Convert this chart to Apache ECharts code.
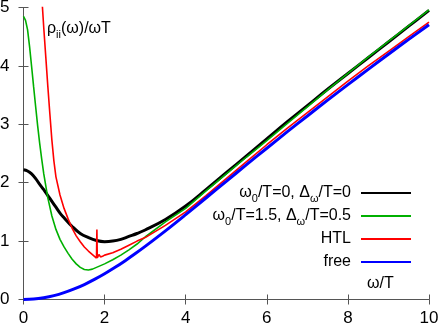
<!DOCTYPE html>
<html>
<head>
<meta charset="utf-8">
<script src="https://cdn.jsdelivr.net/npm/echarts@6/dist/echarts.min.js"></script>
<style>
html,body{margin:0;padding:0;background:#fff;}
#chart{width:441px;height:328px;}
</style>
</head>
<body>
<div id="chart"></div>
<script>
// x ticks and y ticks
const xTicks = [0, 2, 4, 6, 8, 10];
const yTicks = [0, 1, 2, 3, 4, 5];

// omega0/T=0, Delta_omega/T=0 (black)
const omegaBlack = [0,0.1,0.2,0.3,0.4,0.5,0.6,0.7,0.8,0.9,1.0,1.2,1.4,1.6,1.8,2.0,2.2,2.4,2.6,2.8,3.0,3.5,4,4.5,5,5.5,6,6.5,7,7.5,8,8.5,9,9.5,10];
const rhoBlack   = [2.22,2.20,2.15,2.07,1.97,1.88,1.78,1.68,1.58,1.48,1.40,1.25,1.13,1.06,1.01,0.99,1.00,1.03,1.08,1.13,1.19,1.37,1.60,1.88,2.17,2.46,2.75,3.04,3.32,3.60,3.87,4.14,4.41,4.68,4.95];

// omega0/T=1.5, Delta_omega/T=0.5 (green)
const omegaGreen = [0,0.05,0.1,0.15,0.2,0.25,0.3,0.35,0.4,0.45,0.5,0.6,0.7,0.8,0.9,1.0,1.1,1.2,1.3,1.4,1.5,1.6,1.7,1.8,2.0,2.2,2.4,2.6,2.8,3.0,3.5,4,4.5,5,5.5,6,6.5,7,7.5,8,8.5,9,9.5,10];
const rhoGreen   = [4.85,4.78,4.62,4.33,3.99,3.64,3.30,2.97,2.67,2.40,2.15,1.74,1.43,1.20,1.03,0.90,0.79,0.69,0.61,0.55,0.515,0.505,0.52,0.55,0.61,0.68,0.76,0.85,0.95,1.07,1.33,1.56,1.86,2.15,2.44,2.72,3.01,3.30,3.59,3.87,4.15,4.42,4.69,4.96];

// HTL (red)
const omegaRed = [0.44,0.5,0.55,0.6,0.65,0.7,0.75,0.8,0.9,1.0,1.1,1.2,1.3,1.4,1.5,1.6,1.7,1.8,1.81,1.82,1.86,1.9,1.95,2.0,2.2,2.4,2.6,2.8,3.0,3.5,4,4.5,5,5.5,6,6.5,7,7.5,8,8.5,9,9.5,10];
const rhoRed   = [5.30,4.65,4.15,3.65,3.18,2.73,2.37,2.10,1.79,1.56,1.38,1.22,1.09,0.99,0.90,0.83,0.77,0.71,1.20,0.71,0.77,0.73,0.74,0.76,0.80,0.86,0.93,1.00,1.06,1.27,1.50,1.78,2.07,2.36,2.65,2.93,3.20,3.47,3.74,4.00,4.25,4.50,4.75];

// free (blue)
const omegaFree = [0,0.25,0.5,0.75,1,1.25,1.5,1.75,2,2.25,2.5,2.75,3,3.5,4,4.5,5,5.5,6,6.5,7,7.5,8,8.5,9,9.5,10];
const rhoFree   = [0,0.007,0.030,0.066,0.117,0.181,0.256,0.344,0.441,0.547,0.661,0.782,0.909,1.175,1.453,1.738,2.023,2.309,2.590,2.870,3.143,3.413,3.679,3.941,4.199,4.454,4.706];

const seriesNames = [
  '{a|ω}{s|0}{a|/T=0, Δ}{s|ω}{a|/T=0}',
  '{a|ω}{s|0}{a|/T=1.5, Δ}{s|ω}{a|/T=0.5}',
  '{a|HTL}{s|\u200b}',
  '{a|free}{s|\u200b}'
];

const pairs = (xs, ys) => xs.map((x, i) => [x, ys[i]]);

const FONT = 'Liberation Sans, Arial, sans-serif';
const axisColor = '#555';

const chart = echarts.init(document.getElementById('chart'), null, {renderer: 'canvas'});

const richText = {
  a: {fontSize: 16, fontFamily: FONT, fontWeight: 'normal', color: '#000', lineHeight: 16, verticalAlign: 'top'},
  s: {fontSize: 11, fontFamily: FONT, fontWeight: 'normal', color: '#000', lineHeight: 11, verticalAlign: 'top', padding: [8, 0, 0, 0]}
};

const option = {
  animation: false,
  backgroundColor: '#fff',
  textStyle: {fontFamily: FONT},
  title: [
    {
      text: '{a|ρ}{s|ii}{a|(ω)/ωT}',
      left: 47, top: 21, padding: 0,
      textStyle: {rich: richText, fontWeight: 'normal'}
    },
    {
      text: 'ω/T',
      left: 367, top: 276, padding: 0,
      textStyle: {fontSize: 16, fontWeight: 'normal', fontFamily: FONT, color: '#000'}
    }
  ],
  grid: {left: 23.5, right: 12, top: 7.5, bottom: 28.5, outerBoundsMode: 'none', containLabel: false},
  legend: {
    data: seriesNames,
    orient: 'vertical',
    align: 'right',
    right: 29,
    top: 185,
    padding: 0,
    itemWidth: 50,
    itemHeight: 14,
    itemGap: 4,
    formatter: n => n,
    itemStyle: {opacity: 0, borderWidth: 0},
    textStyle: {rich: richText, padding: [0, 5, 0, 0]}
  },
  xAxis: [
    {
      type: 'value', min: xTicks[0], max: xTicks[xTicks.length - 1], interval: xTicks[1] - xTicks[0],
      axisLine: {show: true, lineStyle: {color: axisColor, width: 1}},
      axisTick: {show: true, inside: true, length: 5, lineStyle: {color: axisColor}},
      axisLabel: {fontSize: 17, color: '#000', margin: 10, fontFamily: FONT},
      splitLine: {show: false}
    },
    {
      type: 'value', position: 'top', min: xTicks[0], max: xTicks[xTicks.length - 1], interval: xTicks[1] - xTicks[0],
      axisLine: {show: true, lineStyle: {color: axisColor, width: 1}},
      axisTick: {show: true, inside: true, length: 5, lineStyle: {color: axisColor}},
      axisLabel: {show: false},
      splitLine: {show: false}
    }
  ],
  yAxis: [
    {
      type: 'value', min: yTicks[0], max: yTicks[yTicks.length - 1], interval: yTicks[1] - yTicks[0],
      axisLine: {show: true, lineStyle: {color: axisColor, width: 1}},
      axisTick: {show: true, inside: true, length: 5, lineStyle: {color: axisColor}},
      axisLabel: {fontSize: 17, color: '#000', margin: 14, fontFamily: FONT},
      splitLine: {show: false}
    },
    {
      type: 'value', position: 'right', min: yTicks[0], max: yTicks[yTicks.length - 1], interval: yTicks[1] - yTicks[0],
      axisLine: {show: true, lineStyle: {color: axisColor, width: 1}},
      axisTick: {show: true, inside: true, length: 5, lineStyle: {color: axisColor}},
      axisLabel: {show: false},
      splitLine: {show: false}
    }
  ],
  series: [
    {
      name: seriesNames[0], type: 'line', data: pairs(omegaBlack, rhoBlack),
      symbol: 'none', smooth: 0.4, clip: true,
      lineStyle: {color: '#000000', width: 3}, itemStyle: {color: '#000000'}
    },
    {
      name: seriesNames[1], type: 'line', data: pairs(omegaGreen, rhoGreen),
      symbol: 'none', smooth: false, clip: true,
      lineStyle: {color: '#00b000', width: 1.6}, itemStyle: {color: '#00b000'}
    },
    {
      name: seriesNames[2], type: 'line', data: pairs(omegaRed, rhoRed),
      symbol: 'none', smooth: false, clip: true,
      lineStyle: {color: '#ff0000', width: 1.6}, itemStyle: {color: '#ff0000'}
    },
    {
      name: seriesNames[3], type: 'line', data: pairs(omegaFree, rhoFree),
      symbol: 'none', smooth: 0.4, clip: true,
      lineStyle: {color: '#0000ff', width: 3}, itemStyle: {color: '#0000ff'}
    }
  ]
};

chart.setOption(option);
</script>
</body>
</html>
